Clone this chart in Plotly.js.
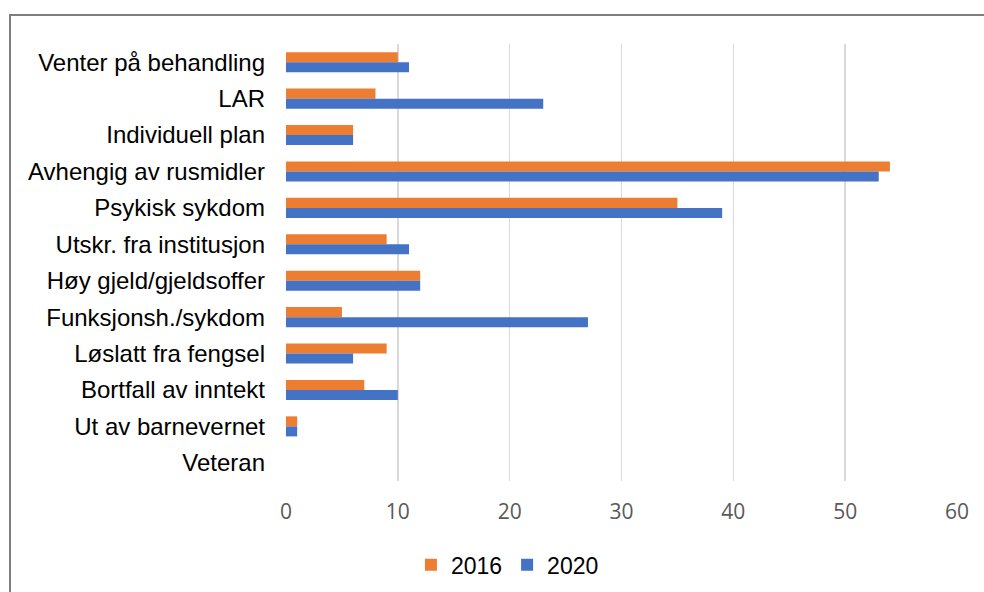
<!DOCTYPE html>
<html>
<head>
<meta charset="utf-8">
<script src="https://cdn.plot.ly/plotly-3.0.1.min.js"></script>
<style>
  html, body { margin: 0; padding: 0; background: #ffffff; }
  #wrap { position: relative; width: 984px; height: 592px; overflow: hidden; }
  #chart { position: absolute; left: 0; top: 0; width: 984px; height: 592px; }
  #frame { position: absolute; left: 9px; top: 14px; width: 1000px; height: 600px;
           border-left: 2px solid #7f7f7f; border-top: 2px solid #7f7f7f; pointer-events: none; }
</style>
</head>
<body>
<div id="wrap">
  <div id="chart"></div>
  <div id="frame"></div>
</div>
<script>
const categories = [
  "Venter på behandling",
  "LAR",
  "Individuell plan",
  "Avhengig av rusmidler",
  "Psykisk sykdom",
  "Utskr. fra institusjon",
  "Høy gjeld/gjeldsoffer",
  "Funksjonsh./sykdom",
  "Løslatt fra fengsel",
  "Bortfall av inntekt",
  "Ut av barnevernet",
  "Veteran"
];
const values2016 = [10, 8, 6, 54, 35, 9, 12, 5, 9, 7, 1, 0];
const values2020 = [11, 23, 6, 53, 39, 11, 12, 27, 6, 10, 1, 0];
const seriesNames = ["2016", "2020"];
const xTicks = [0, 10, 20, 30, 40, 50, 60];

const traces = [
  { type: "bar", orientation: "h", name: seriesNames[0], y: categories, x: values2016,
    marker: { color: "#ED7D31" }, hoverinfo: "x+y+name" },
  { type: "bar", orientation: "h", name: seriesNames[1], y: categories, x: values2020,
    marker: { color: "#4472C4" }, hoverinfo: "x+y+name" }
];

const layout = {
  width: 984, height: 592,
  margin: { l: 286, r: 27, t: 44, b: 111, autoexpand: false },
  paper_bgcolor: "rgba(0,0,0,0)",
  plot_bgcolor: "rgba(0,0,0,0)",
  barmode: "group",
  bargap: 0.45,
  bargroupgap: 0,
  showlegend: true,
  legend: {
    orientation: "h", x: 0.33, xanchor: "center", y: -0.192, yanchor: "middle",
    font: { family: "Liberation Sans, Arial, sans-serif", size: 23, color: "#000000" },
    traceorder: "normal"
  },
  xaxis: {
    range: [0, 60], tickvals: xTicks, ticktext: xTicks.map(String),
    showgrid: true, gridcolor: "#d9d9d9", gridwidth: 1.5,
    zeroline: false, showline: false, ticks: "",
    ticklabelstandoff: 16,
    tickfont: { family: "Open Sans, sans-serif", size: 21, color: "#595959" },
    fixedrange: true
  },
  yaxis: {
    type: "category", autorange: "reversed",
    showgrid: false, zeroline: false, showline: false, ticks: "",
    ticklabelstandoff: 20,
    tickfont: { family: "Liberation Sans, Arial, sans-serif", size: 24, color: "#000000" },
    fixedrange: true
  },
  font: { family: "Liberation Sans, Arial, sans-serif" }
};

Plotly.newPlot("chart", traces, layout, { displayModeBar: false, staticPlot: true });
</script>
</body>
</html>
